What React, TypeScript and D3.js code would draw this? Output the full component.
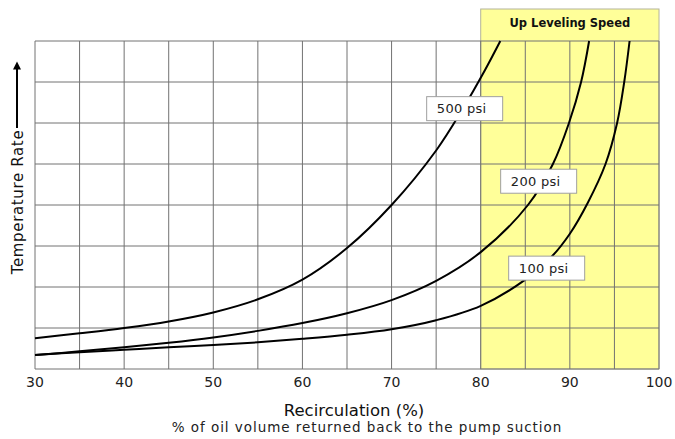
import React from "react";
import * as d3 from "d3";

const W = 675;
const H = 439;

const xTicks = [30, 40, 50, 60, 70, 80, 90, 100];
const xGrid = [30, 35, 40, 45, 50, 55, 60, 65, 70, 75, 80, 85, 90, 95, 100];
const yGrid = [0, 1, 2, 3, 4, 5, 6, 7, 8];

const psi500: [number, number][] = [
  [30, 0.75], [35, 0.87], [40, 1.0], [45, 1.16], [50, 1.38], [55, 1.7],
  [60, 2.18], [65, 2.95], [70, 4.0], [75, 5.33], [78, 6.35], [80.5, 7.3], [82.2, 8],
];
const psi200: [number, number][] = [
  [30, 0.34], [35, 0.43], [40, 0.53], [45, 0.64], [50, 0.77], [55, 0.93],
  [60, 1.12], [65, 1.36], [70, 1.68], [75, 2.15], [80, 2.85], [85.3, 4.0],
  [88.1, 5], [89.9, 6], [91.26, 7], [92.16, 8],
];
const psi100: [number, number][] = [
  [30, 0.34], [35, 0.41], [40, 0.47], [45, 0.53], [50, 0.585], [55, 0.65],
  [60, 0.735], [65, 0.835], [70, 0.97], [75, 1.19], [80, 1.54], [85, 2.18],
  [88, 2.75], [90, 3.3], [92, 4.05], [94, 5.0], [95.3, 6], [96.1, 7], [96.7, 8],
];
const series = [psi500, psi200, psi100];

const labels = [
  { text: "500 psi", x: 78.2, y: 6.35 },
  { text: "200 psi", x: 86.5, y: 4.58 },
  { text: "100 psi", x: 87.4, y: 2.46 },
];

const zoneStart = 80;
const zoneEnd = 100;

export default function App() {
  const x = d3.scaleLinear().domain([30, 100]).range([35, 659]);
  const y = d3.scaleLinear().domain([0, 8]).range([369, 41]);
  const line = d3
    .line<[number, number]>()
    .x((d) => x(d[0]))
    .y((d) => y(d[1]))
    .curve(d3.curveCatmullRom.alpha(0.5));

  const font = "'DejaVu Sans', Verdana, sans-serif";
  const gridColor = "#727272";
  const headerTop = 9;

  return (
    <svg
      width={W}
      height={H}
      style={{ position: "absolute", left: 0, top: 0, background: "#fff" }}
      fontFamily={font}
    >
      {/* yellow zone */}
      <rect
        x={x(zoneStart)}
        y={headerTop}
        width={x(zoneEnd) - x(zoneStart)}
        height={y(0) - headerTop}
        fill="#ffff99"
        stroke="#b4b49a"
        strokeWidth={1}
      />
      <text
        x={(x(zoneStart) + x(zoneEnd)) / 2}
        y={27}
        textAnchor="middle"
        fontSize={11.5}
        fontWeight="bold"
        fill="#111"
      >
        Up Leveling Speed
      </text>

      {/* grid */}
      {xGrid.map((v) => (
        <line
          key={"xg" + v}
          x1={x(v)}
          x2={x(v)}
          y1={y(8)}
          y2={y(0)}
          stroke={gridColor}
          strokeWidth={1}
        />
      ))}
      {yGrid.map((v) => (
        <line
          key={"yg" + v}
          x1={x(30)}
          x2={x(100)}
          y1={y(v)}
          y2={y(v)}
          stroke={gridColor}
          strokeWidth={1}
        />
      ))}

      {/* curves */}
      {series.map((s, i) => (
        <path
          key={"s" + i}
          d={line(s) || ""}
          fill="none"
          stroke="#000"
          strokeWidth={2}
        />
      ))}

      {/* labels */}
      {labels.map((l) => (
        <g key={l.text}>
          <rect
            x={x(l.x) - 38}
            y={y(l.y) - 12}
            width={76}
            height={24}
            fill="#fff"
            stroke="#a0a0a0"
            strokeWidth={1}
          />
          <text
            x={x(l.x) - 3}
            y={y(l.y) + 4.5}
            textAnchor="middle"
            fontSize={13}
            letterSpacing={0.3}
            fill="#222"
          >
            {l.text}
          </text>
        </g>
      ))}

      {/* x tick labels */}
      {xTicks.map((v) => (
        <text
          key={"xt" + v}
          x={x(v)}
          y={387}
          textAnchor="middle"
          fontSize={14}
          fill="#222"
        >
          {v}
        </text>
      ))}

      {/* axis titles */}
      <text x={354} y={416} textAnchor="middle" fontSize={16.5} fill="#111">
        Recirculation (%)
      </text>
      <text
        x={367}
        y={432}
        textAnchor="middle"
        fontSize={13.5}
        letterSpacing={0.95}
        fill="#222"
      >
        % of oil volume returned back to the pump suction
      </text>
      <text
        transform="translate(23,202) rotate(-90)"
        textAnchor="middle"
        fontSize={15}
        letterSpacing={0.65}
        fill="#111"
      >
        Temperature Rate
      </text>
      <line x1={17} x2={17} y1={128} y2={68} stroke="#000" strokeWidth={2} />
      <path d="M17,61.5 L13,69.5 L21,69.5 Z" fill="#000" />
    </svg>
  );
}
